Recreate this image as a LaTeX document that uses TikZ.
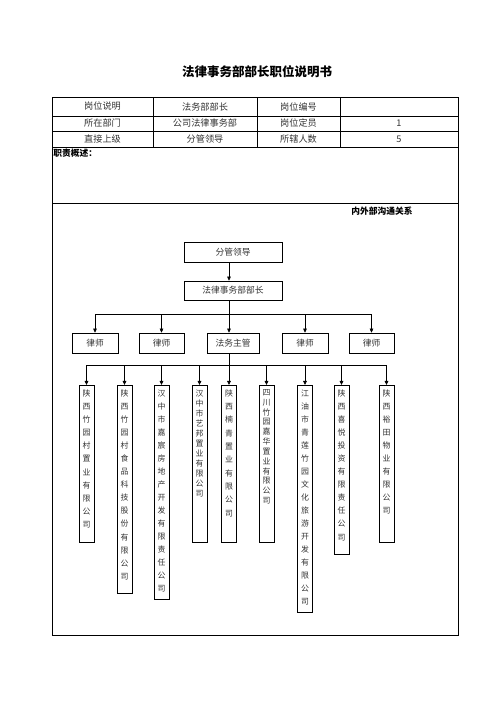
\documentclass[tikz,border=0pt]{standalone}
\usepackage{fontspec}
\setmainfont{Noto Sans CJK SC}
\usepackage{tikz}
\usetikzlibrary{arrows.meta}
\newcommand{\shuzi}[3]{\parbox[c][#2][t]{18bp}{\centering\fontsize{9.5bp}{#1}\selectfont\vspace*{5bp}#3\par}}

\begin{document}
\begin{tikzpicture}[x=1.2bp,y=-1.2bp,line width=0.8bp,
	biao/.style={font=\fontsize{11bp}{13bp}\selectfont,text=black!80},
	kuang/.style={draw,minimum height=24bp,inner sep=0pt,font=\fontsize{10.5bp}{12bp}\selectfont,text=black!80},
	gongsi/.style={draw,anchor=north,inner sep=0pt,text=black!80},
	jian/.style={-{Triangle[width=4.5bp,length=5bp]}}]
			\useasboundingbox (0,0) rectangle (496,702);
			\node[font=\bfseries\fontsize{15bp}{18bp}\selectfont] (biaoti) at (257,72) {法律事务部部长职位说明书};
			\draw (52,97) rectangle (458,635);
			\draw (52,116) -- (458,116);
			\draw (52,131) -- (458,131);
			\draw (52,147) -- (458,147);
			\draw (52,203) -- (458,203);
			\draw (153,97) -- (153,147);
			\draw (257,97) -- (257,147);
			\draw (340,97) -- (340,147);
			\node[biao] (gwsm) at (102.5,106.5) {岗位说明};
			\node[biao] (fwbz) at (205,106.5) {法务部部长};
			\node[biao] (gwbh) at (298.5,106.5) {岗位编号};
			\node[biao] (szbm) at (102.5,123.5) {所在部门};
			\node[biao] (gsfl) at (205,123.5) {公司法律事务部};
			\node[biao] (gwdy) at (298.5,123.5) {岗位定员};
			\node[biao] (dingyuan) at (399,123.5) {1};
			\node[biao] (zjsj) at (102.5,139) {直接上级};
			\node[biao] (fgld) at (205,139) {分管领导};
			\node[biao] (sxrs) at (298.5,139) {所辖人数};
			\node[biao] (renshu) at (399,139) {5};
			\node[anchor=west,inner sep=0pt,font=\bfseries\fontsize{10.5bp}{12bp}\selectfont] (zzgs) at (53,153) {职责概述：};
			\node[font=\bfseries\fontsize{10.5bp}{12bp}\selectfont] (gtgx) at (382,211) {内外部沟通关系};
			\node[kuang,minimum width=117.6bp] (fenguan) at (233,252) {分管领导};
			\node[kuang,minimum width=117.6bp,minimum height=22.8bp] (buzhang) at (233,290.5) {法律事务部部长};
			\node[kuang,minimum width=55.2bp] (lvshi1) at (95,343) {律师};
			\node[kuang,minimum width=54bp] (lvshi2) at (161.5,343) {律师};
			\node[kuang,minimum width=62.4bp] (zhuguan) at (233,343) {法务主管};
			\node[kuang,minimum width=55.2bp] (lvshi3) at (305,343) {律师};
			\node[kuang,minimum width=54bp] (lvshi4) at (371.5,343) {律师};
			\node[gongsi] (gs1) at (86.5,385) {\shuzi{15.8bp}{188.4bp}{陕\\西\\竹\\园\\村\\置\\业\\有\\限\\公\\司}};
			\node[gongsi] (gs2) at (124.5,385) {\shuzi{15.7bp}{249.6bp}{陕\\西\\竹\\园\\村\\食\\品\\科\\技\\股\\份\\有\\限\\公\\司}};
			\node[gongsi] (gs3) at (161.5,385) {\shuzi{15.6bp}{256.8bp}{汉\\中\\市\\嘉\\宸\\房\\地\\产\\开\\发\\有\\限\\责\\任\\公\\司}};
			\node[gongsi] (gs4) at (199.5,385) {\shuzi{12bp}{188.4bp}{汉\\中\\市\\艺\\邦\\置\\业\\有\\限\\公\\司}};
			\node[gongsi] (gs5) at (229,385) {\shuzi{16bp}{188.4bp}{陕\\西\\楠\\青\\置\\业\\有\\限\\公\\司}};
			\node[gongsi] (gs6) at (266.5,385) {\shuzi{11.8bp}{188.4bp}{四\\川\\竹\\园\\嘉\\华\\置\\业\\有\\限\\公\\司}};
			\node[gongsi] (gs7) at (305,385) {\shuzi{15.6bp}{272.4bp}{江\\油\\市\\青\\莲\\竹\\园\\文\\化\\旅\\游\\开\\发\\有\\限\\公\\司}};
			\node[gongsi] (gs8) at (341.5,385) {\shuzi{15.7bp}{202.8bp}{陕\\西\\喜\\悦\\投\\资\\有\\限\\责\\任\\公\\司}};
			\node[gongsi] (gs9) at (386.5,385) {\shuzi{15.7bp}{188.4bp}{陕\\西\\裕\\田\\物\\业\\有\\限\\公\\司}};
			\coordinate (gan) at (229,314);
			\coordinate (gan2) at (229,365);
			\draw[jian] (fenguan.south -| gan) -- (buzhang.north -| gan);
			\draw (buzhang.south -| gan) -- (gan);
			\draw (gan -| lvshi1) -- (gan -| lvshi4);
			\draw[jian] (gan -| lvshi1) -- (lvshi1.north);
			\draw[jian] (gan -| lvshi2) -- (lvshi2.north);
			\draw[jian] (gan) -- (zhuguan.north -| gan);
			\draw[jian] (gan -| lvshi3) -- (lvshi3.north);
			\draw[jian] (gan -| lvshi4) -- (lvshi4.north);
			\draw (zhuguan.south -| gan) -- (gan2);
			\draw (gan2 -| gs1) -- (gan2 -| gs9);
			\draw[jian] (gan2 -| gs1) -- (gs1.north);
			\draw[jian] (gan2 -| gs2) -- (gs2.north);
			\draw[jian] (gan2 -| gs3) -- (gs3.north);
			\draw[jian] (gan2 -| gs4) -- (gs4.north);
			\draw[jian] (gan2) -- (gs5.north);
			\draw[jian] (gan2 -| gs6) -- (gs6.north);
			\draw[jian] (gan2 -| gs7) -- (gs7.north);
			\draw[jian] (gan2 -| gs8) -- (gs8.north);
			\draw[jian] (gan2 -| gs9) -- (gs9.north);
		\end{tikzpicture}
\end{document}
